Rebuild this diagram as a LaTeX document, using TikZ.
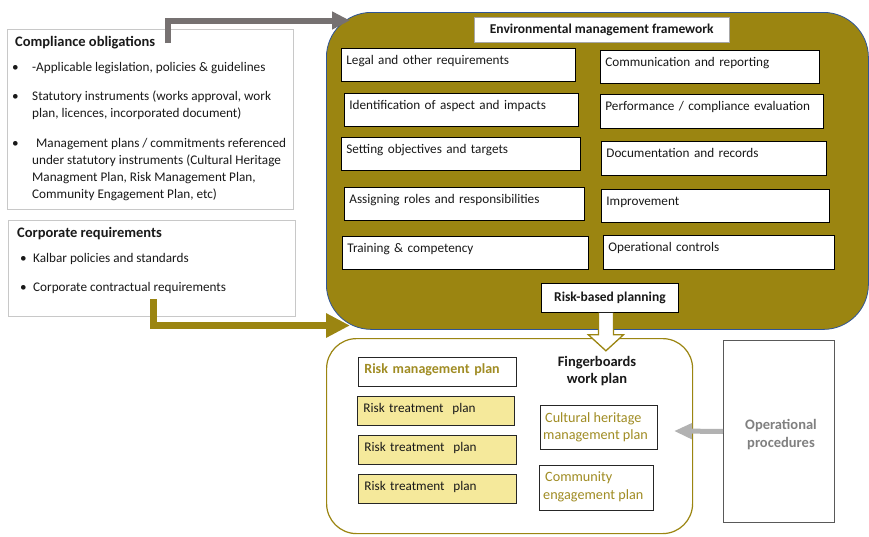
\documentclass[tikz,border=0pt]{standalone}
\usepackage{fontspec}
\setmainfont{Carlito}
\usetikzlibrary{arrows.meta,calc}

\definecolor{emfolive}{RGB}{155,133,17}
\definecolor{olivetext}{RGB}{160,140,35}
\definecolor{mainedge}{RGB}{47,85,151}
\definecolor{paleyellow}{RGB}{245,233,155}
\definecolor{framegray}{RGB}{200,200,200}
\definecolor{arrowgray}{RGB}{118,113,113}
\definecolor{lightarrow}{RGB}{178,178,178}
\definecolor{proctext}{RGB}{128,128,128}
\definecolor{bodytext}{RGB}{25,25,25}

\begin{document}
\begin{tikzpicture}[x=1pt,y=-1pt,
  every node/.style={font=\fontsize{13.2}{16}\selectfont, text=bodytext},
  boldtxt/.style={font=\fontsize{13.5}{16}\selectfont\bfseries},
  bigbold/.style={font=\fontsize{14.5}{16}\selectfont\bfseries},
  txt/.style={anchor=base west, inner sep=0},
  ctxt/.style={anchor=base, inner sep=0},
  plantxt/.style={txt, text=olivetext, font=\fontsize{14.2}{16}\selectfont},
  frame/.style={draw=framegray, line width=0.9, fill=white, anchor=north west, inner sep=0},
  emf/.style={draw=black, line width=0.8, fill=white, anchor=north west,
    inner xsep=5, inner ysep=0, text height=16, align=left},
  plain/.style={draw=black!85, line width=0.8, anchor=north west, inner sep=0},
  treat/.style={draw=black!85, line width=0.8, fill=paleyellow, anchor=north west,
    inner xsep=6, inner ysep=0, text height=16, text depth=13, align=left}
]
\useasboundingbox (0,0) rectangle (869,536);
\fill[white] (0,0) rectangle (869,536);

% ---------- left: sources of requirements ----------
\node[frame, minimum width=286, minimum height=180] (comp) at (7,29) {};
\node[txt, bigbold] (comptitle) at (15,46) {Compliance obligations};
\node[txt] (cbul1) at (12,71) {\textbullet};
\node[txt] (cl1) at (32,71) {-Applicable legislation, policies \& guidelines};
\node[txt] (cbul2) at (12,100) {\textbullet};
\node[txt] (cl2) at (32,100) {Statutory instruments (works approval, work};
\node[txt] (cl3) at (32,117) {plan, licences, incorporated document)};
\node[txt] (cbul3) at (12,147) {\textbullet};
\node[txt] (cl4) at (36,147) {Management plans / commitments referenced};
\node[txt] (cl5) at (32,164) {under statutory instruments (Cultural Heritage};
\node[txt] (cl6) at (32,181) {Managment Plan, Risk Management Plan,};
\node[txt] (cl7) at (32,198) {Community Engagement Plan, etc)};

\node[frame, minimum width=287, minimum height=96] (corp) at (8,220) {};
\node[txt, bigbold] (corptitle) at (17,237) {Corporate requirements};
\node[txt] (rbul1) at (20,262) {\textbullet};
\node[txt] (rl1) at (33,262) {Kalbar policies and standards};
\node[txt] (rbul2) at (20,291) {\textbullet};
\node[txt] (rl2) at (33,291) {Corporate contractual requirements};

% ---------- environmental management framework ----------
\node[draw=mainedge, line width=0.8, fill=emfolive, rounded corners=45,
  minimum width=542, minimum height=317, anchor=north west, inner sep=0] (emfmain) at (326,12) {};
\node[draw=black!35, line width=0.6, fill=white, minimum width=255, minimum height=25,
  anchor=north west, inner sep=0, boldtxt] (emftitle) at (474,17) {Environmental management framework};

\node[emf, text width=224, text depth=17] (legal)  at (341,48)  {Legal and other requirements};
\node[emf, text width=224, text depth=17] (ident)  at (344,93)  {Identification of aspect and impacts};
\node[emf, text width=229, text depth=17] (setobj) at (341,137) {Setting objectives and targets};
\node[emf, text width=230, text depth=17] (roles)  at (344,187) {Assigning roles and responsibilities};
\node[emf, text width=236, text depth=17] (train)  at (342,236) {Training \& competency};

\node[emf, text width=209, text depth=17] (comm)   at (600,50)  {Communication and reporting};
\node[emf, text width=213, text depth=18] (perf)   at (600,94)  {Performance / compliance evaluation};
\node[emf, text width=215, text depth=18] (docs)   at (601,141) {Documentation and records};
\node[emf, text width=218, text depth=17] (improve) at (601,189) {Improvement};
\node[emf, text width=221, text depth=18] (opctl)  at (603,235) {Operational controls};

\node[draw=black, line width=0.8, fill=white, minimum width=137, minimum height=29,
  anchor=north west, inner sep=0, boldtxt] (risk) at (541,283) {Risk-based planning};

% ---------- work plan ----------
\node[draw=emfolive, line width=1.2, fill=white, rounded corners=30,
  minimum width=366, minimum height=195, anchor=north west, inner sep=0] (wp) at (326,338) {};

\node[treat, fill=white, text width=146, text=olivetext, font=\fontsize{14}{16}\selectfont\bfseries]
  (rmp) at (358,357) {Risk management plan};
\node[treat, text width=145] (rtp1) at (357,396) {Risk treatment\ \ plan};
\node[treat, text width=146] (rtp2) at (358,435) {Risk treatment\ \ plan};
\node[treat, text width=146] (rtp3) at (358,474) {Risk treatment\ \ plan};

\node[ctxt, bigbold] (fb1) at (597,366) {Fingerboards};
\node[ctxt, bigbold] (fb2) at (597,383) {work plan};

\node[plain, fill=white, minimum width=117, minimum height=44] (chmp) at (540,405) {};
\node[plantxt] (chmp1) at (545,422) {Cultural heritage};
\node[plantxt] (chmp2) at (543,439) {management plan};

\node[plain, fill=white, minimum width=114, minimum height=45] (cep) at (539,465) {};
\node[plantxt] (cep1) at (545,481) {Community};
\node[plantxt] (cep2) at (543,499) {engagement plan};

% ---------- operational procedures ----------
\node[draw=black!65, line width=0.9, fill=white, minimum width=111, minimum height=182,
  anchor=north west, inner sep=0] (proc) at (723,340) {};
\node[ctxt, bigbold, text=proctext] (proc1) at (781,429) {Operational};
\node[ctxt, bigbold, text=proctext] (proc2) at (781,447) {procedures};

% ---------- connectors ----------
\coordinate (gstart) at (168,43);
\coordinate (gend) at (350,20.5);
\draw[line width=6, arrowgray, -{Triangle[length=18pt,width=17pt]}] (gstart) |- (gend);

\coordinate (ostart) at (153.5,299);
\coordinate (oend) at (350,325.5);
\draw[line width=7, emfolive, -{Triangle[length=24pt,width=23pt]}] (ostart) |- (oend);

\coordinate (ltip) at (674,431);
\draw[line width=5, lightarrow, -{Triangle[length=18pt,width=15pt]}] (proc.west) -- (ltip);

% hollow block arrow from risk-based planning into the work plan
\draw[emfolive, line width=1.3, fill=white, line join=miter]
  ($(risk.south)+(-11.5,0)$) -- ($(risk.south)+(-11.5,22)$) -- ($(risk.south)+(-21.5,22)$)
  -- ($(risk.south)+(-4,38)$) -- ($(risk.south)+(13.5,22)$) -- ($(risk.south)+(3.5,22)$)
  -- ($(risk.south)+(3.5,0)$);
\end{tikzpicture}
\end{document}
